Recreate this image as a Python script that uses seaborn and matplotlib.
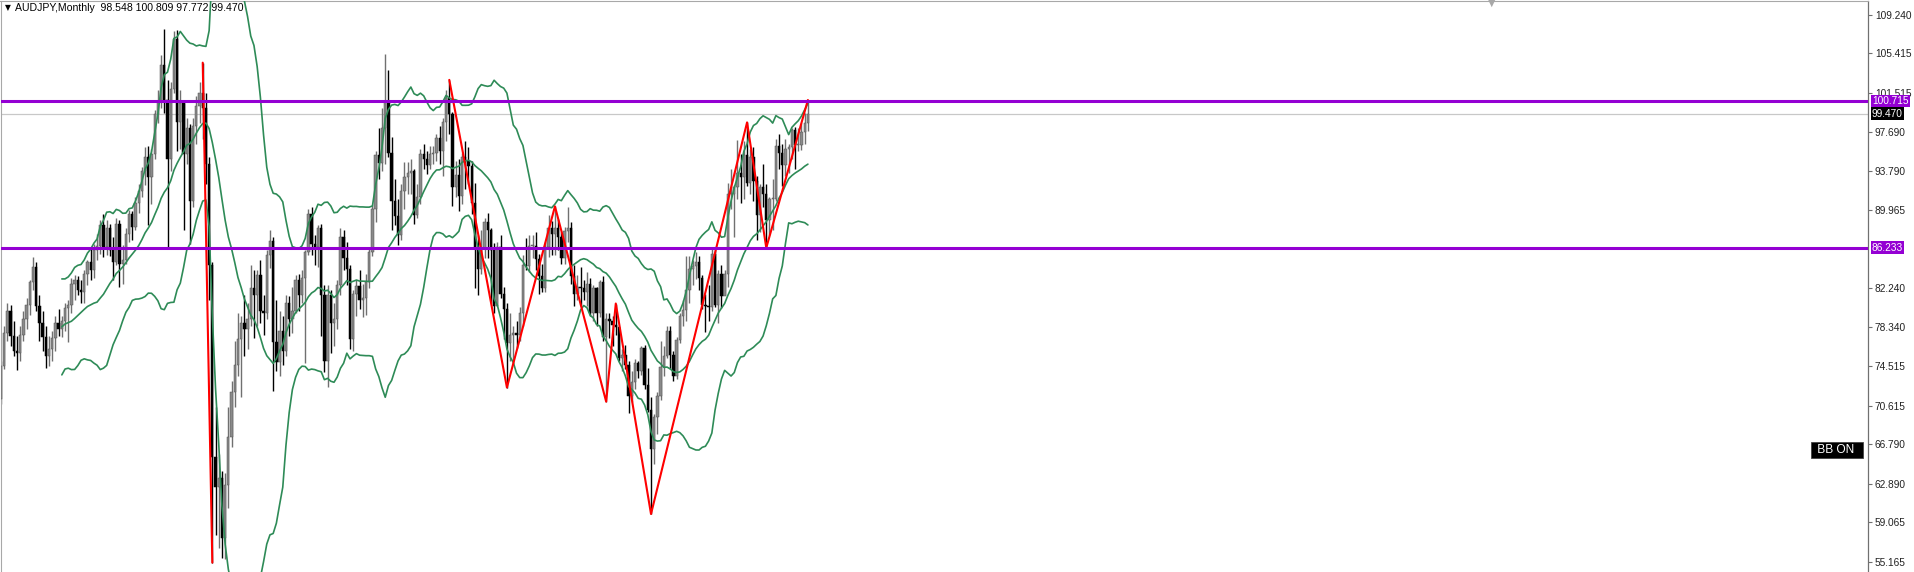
import numpy as np
import pandas as pd
import matplotlib
matplotlib.use("Agg")
import matplotlib.pyplot as plt
import matplotlib.transforms as mtransforms
import seaborn as sns

symbol_title = "AUDJPY,Monthly"
last_ohlc = [98.548, 100.809, 97.772, 99.470]
first_open = 71.3

# monthly candles, Apr 2003 .. Apr 2024 (open = previous close)
closes = [
    74.5, 77.8, 80.0, 77.5, 76.0, 75.8, 77.6, 79.2, 80.6,
    82.8, 84.3, 80.5, 78.8, 77.4, 75.5, 76.2, 77.3, 78.8, 78.2, 79.0, 80.3,
    80.6, 82.6, 83.0, 82.0, 81.8, 83.6, 84.8, 84.0, 86.0, 86.4, 88.5, 86.3,
    88.2, 86.0, 84.8, 88.6, 84.6, 85.0, 87.6, 89.5, 88.3, 90.6, 91.8, 93.8,
    95.2, 93.2, 95.5, 99.4, 100.6, 104.3, 100.8, 95.0, 101.9, 106.8, 98.6, 100.5,
    95.5, 98.0, 90.8, 98.2, 100.2, 101.5, 100.0, 94.5, 84.5, 65.5, 62.6, 63.5,
    57.5, 62.8, 67.5, 72.0, 74.6, 77.2, 78.8, 78.2, 79.2, 82.2, 81.5, 83.5,
    80.0, 79.8, 85.5, 86.9, 76.9, 74.9, 78.0, 76.0, 80.8, 79.2, 80.0, 83.0,
    81.5, 83.2, 85.8, 89.5, 86.6, 86.3, 88.2, 81.5, 75.0, 81.5, 78.8, 79.2,
    82.5, 87.3, 85.2, 84.1, 77.2, 81.6, 82.4, 81.0, 81.2, 82.8, 85.8, 90.0,
    95.4, 94.6, 98.0, 100.6, 95.6, 90.8, 89.3, 87.5, 91.8, 93.2, 93.6, 93.8,
    89.4, 91.2, 95.5, 95.0, 94.4, 95.5, 95.6, 97.1, 95.8, 98.6, 101.0, 99.4,
    92.2, 93.4, 91.3, 95.2, 94.8, 94.3, 90.6, 86.3, 84.1, 86.2, 88.8, 88.0,
    86.0, 80.5, 86.3, 81.6, 80.2, 76.8, 77.6, 77.8, 77.6, 79.8, 84.5, 84.4,
    86.4, 86.4, 85.1, 83.4, 82.2, 86.3, 88.2, 87.6, 88.2, 87.3, 85.2, 87.9,
    88.2, 83.4, 81.6, 82.3, 82.2, 81.8, 82.6, 79.8, 82.2, 79.8, 82.8, 77.4,
    79.2, 79.0, 78.6, 78.4, 75.3, 75.6, 74.6, 71.6, 72.9, 74.8, 74.0, 76.3,
    72.6, 70.2, 66.3, 69.5, 71.6, 74.4, 75.5, 78.0, 75.6, 73.5, 77.1, 79.5,
    80.1, 82.0, 84.1, 84.4, 84.8, 83.2, 80.6, 80.5, 80.4, 85.6, 80.6, 83.6,
    81.4, 83.6, 91.5, 91.5, 92.2, 93.6, 93.2, 95.4, 92.6, 95.2, 92.8, 89.4,
    92.2, 91.5, 89.0, 91.0, 91.0, 96.3, 95.6, 94.4, 96.0, 96.2, 97.8, 96.4,
    96.4, 97.6, 98.548, 99.470,
]
highs = [
    75.0, 78.5, 80.8, 80.6, 79.0, 77.5, 78.5, 80.0, 81.2,
    83.0, 85.3, 84.8, 81.5, 80.0, 78.5, 77.5, 78.0, 79.5, 80.2, 79.5, 80.8,
    81.0, 83.2, 83.5, 83.4, 83.0, 84.0, 85.0, 86.2, 86.6, 87.6, 89.0, 89.5,
    89.0, 88.6, 87.3, 89.2, 89.0, 86.5, 88.2, 89.9, 89.8, 91.2, 92.5, 94.2,
    96.2, 96.3, 96.0, 99.8, 101.8, 105.3, 107.8, 102.8, 102.6, 107.6, 107.7, 101.8,
    100.5, 99.0, 98.4, 99.0, 101.2, 102.6, 104.5, 101.5, 95.2, 84.8, 70.5, 65.8,
    64.2, 64.0, 70.5, 73.0, 77.0, 79.8, 79.5, 81.5, 80.8, 84.5, 84.0, 84.0,
    85.0, 81.5, 86.0, 88.0, 87.3, 81.0, 80.0, 79.5, 81.5, 81.4, 82.3, 83.5,
    83.6, 84.0, 86.0, 90.0, 90.2, 87.5, 88.5, 88.6, 82.5, 82.5, 82.0, 80.8,
    83.0, 88.2, 88.0, 86.8, 84.5, 82.0, 83.0, 84.0, 82.6, 83.6, 86.2, 90.4,
    95.8, 98.0, 100.0, 105.4, 103.8, 97.2, 93.0, 91.0, 92.5, 94.7, 94.7, 95.0,
    94.0, 92.5, 96.0, 96.5, 95.8, 96.3, 96.3, 97.5, 98.2, 99.0, 101.8, 102.8,
    99.6, 94.8, 95.0, 95.6, 96.8, 96.2, 94.8, 92.6, 87.5, 88.0, 89.2, 89.6,
    88.2, 86.7, 86.8, 87.5, 82.3, 80.8, 79.8, 78.5, 79.0, 80.4, 85.5, 87.2,
    87.5, 87.5, 87.8, 85.6, 84.6, 86.8, 89.4, 88.9, 90.3, 89.1, 87.8, 88.3,
    90.2, 88.8, 84.5, 83.5, 84.3, 83.0, 83.8, 83.2, 82.5, 82.3, 83.0, 83.4,
    79.8, 79.8, 79.5, 80.7, 78.4, 76.2, 76.6, 75.0, 74.0, 75.2, 75.0, 76.5,
    76.6, 74.3, 71.5, 69.8, 72.0, 77.0, 76.5, 78.5, 78.5, 76.0, 77.4, 79.8,
    81.0, 85.4, 85.4, 85.0, 85.8, 85.4, 83.5, 81.6, 82.5, 86.2, 86.0, 84.0,
    84.5, 84.0, 92.6, 94.0, 92.4, 96.9, 95.5, 96.8, 98.6, 96.0, 96.2, 93.3,
    92.5, 94.5, 92.5, 91.2, 93.0, 97.0, 97.5, 96.5, 97.0, 96.5, 98.0, 98.1,
    98.0, 98.5, 99.5, 100.809,
]
lows = [
    70.8, 74.2, 77.0, 76.5, 75.5, 74.1, 75.0, 77.0, 78.2,
    79.6, 82.0, 80.0, 77.0, 76.0, 74.3, 74.5, 75.0, 76.0, 77.5, 77.4, 78.0,
    76.9, 79.8, 81.0, 81.5, 80.8, 80.8, 82.5, 83.0, 83.2, 85.0, 85.6, 85.3,
    85.5, 85.4, 83.0, 84.5, 82.3, 82.6, 84.6, 86.8, 87.0, 88.0, 89.6, 91.2,
    92.4, 88.5, 90.5, 95.0, 98.5, 100.0, 99.5, 86.3, 93.8, 101.5, 95.8, 96.0,
    88.0, 94.5, 86.6, 90.2, 96.5, 98.5, 97.0, 92.5, 81.0, 55.1, 57.8, 56.5,
    55.6, 55.5, 60.5, 66.5, 70.5, 73.5, 71.5, 75.5, 76.2, 78.5, 77.3, 78.5,
    78.8, 77.6, 79.2, 84.2, 72.1, 74.0, 73.5, 74.6, 75.5, 77.5, 77.8, 79.8,
    80.0, 80.8, 74.8, 85.5, 85.5, 84.5, 84.3, 77.5, 73.9, 72.5, 75.8, 76.5,
    78.2, 81.5, 84.0, 82.5, 76.2, 76.0, 79.5, 80.2, 79.4, 79.6, 82.2, 85.4,
    88.8, 93.0, 93.8, 94.5, 95.2, 88.0, 88.5, 86.5, 87.0, 90.0, 91.5, 91.5,
    88.6, 89.2, 90.5, 94.0, 93.5, 94.0, 94.5, 94.8, 94.5, 93.3, 96.8, 97.5,
    90.3, 91.2, 89.8, 90.5, 92.0, 92.5, 89.5, 82.2, 81.5, 83.6, 85.2, 85.2,
    80.8, 79.8, 80.5, 81.2, 77.2, 72.4, 75.0, 74.7, 76.3, 77.0, 78.5, 84.0,
    83.8, 85.2, 84.0, 81.6, 81.8, 81.8, 85.3, 85.5, 85.5, 86.0, 84.6, 84.6,
    86.8, 82.6, 80.5, 81.0, 80.5, 81.0, 80.5, 79.5, 79.0, 78.5, 79.4, 77.0,
    71.0, 77.3, 76.5, 77.6, 75.0, 74.0, 74.2, 69.9, 71.0, 72.3, 73.3, 73.6,
    72.3, 70.0, 59.9, 64.8, 67.8, 71.2, 73.5, 75.3, 74.2, 73.0, 73.2, 76.8,
    78.5, 79.0, 80.8, 82.5, 83.1, 82.0, 80.2, 77.9, 79.0, 80.0, 80.4, 78.8,
    80.3, 81.5, 82.3, 90.0, 87.3, 91.0, 90.6, 91.0, 92.3, 91.5, 90.8, 87.0,
    87.8, 90.2, 86.2, 87.5, 88.0, 90.8, 94.0, 92.3, 93.3, 93.6, 95.0, 94.0,
    95.8, 95.9, 96.5, 97.772,
]

# zigzag pivots (bar index, price)
zigzag_a_idx = [63, 66]
zigzag_a_val = [104.5, 55.1]
zigzag_b_idx = [140, 158, 173, 189, 192, 203, 233, 239, 252]
zigzag_b_val = [102.8, 72.4, 90.3, 71.0, 80.7, 59.9, 98.6, 86.2, 100.809]

levels = [100.715, 86.233]
current_price = 99.470

tick_values = [109.240, 105.415, 101.515, 97.690, 93.790, 89.965, 82.240,
               78.340, 74.515, 70.615, 66.790, 62.890, 59.065, 55.165]
tick_labels = ["109.240", "105.415", "101.515", "97.690", "93.790", "89.965",
               "82.240", "78.340", "74.515", "70.615", "66.790", "62.890",
               "59.065", "55.165"]

sns.set_style("white")
plt.rcParams['font.family'] = ['Liberation Sans', 'DejaVu Sans']

W, H = 1915, 572
fig = plt.figure(figsize=(W / 100, H / 100), dpi=100)
ax = fig.add_axes([0.5 / W, -6 / H, 1867.5 / W, 577 / H])

closes = np.array(closes)
highs = np.array(highs)
lows = np.array(lows)
opens = np.r_[first_open, closes[:-1]]
idx = np.arange(len(closes))
bull = closes >= opens

# candles
ax.vlines(idx[bull], lows[bull], highs[bull], color="#707070", lw=1.0, zorder=2)
ax.vlines(idx[~bull], lows[~bull], highs[~bull], color="black", lw=1.0, zorder=2)
ax.bar(idx[bull], np.maximum(closes[bull] - opens[bull], 0.1), bottom=opens[bull],
       width=0.72, color="#8a8a8a", edgecolor="#505050", linewidth=0.35, zorder=3)
ax.bar(idx[~bull], np.maximum(opens[~bull] - closes[~bull], 0.1), bottom=closes[~bull],
       width=0.72, color="black", edgecolor="black", linewidth=0.35, zorder=3)

# bollinger bands 20, 2
s = pd.Series(closes)
mid = s.rolling(20).mean()
sd = s.rolling(20).std(ddof=0)
for band in (mid, mid + 2 * sd, mid - 2 * sd):
    sns.lineplot(x=idx, y=band.values, ax=ax, color="#2e8b57", linewidth=1.2, zorder=4)

# zigzag
ax.plot(zigzag_a_idx, zigzag_a_val, color="red", lw=1.5, zorder=5)
ax.plot(zigzag_b_idx, zigzag_b_val, color="red", lw=1.5, zorder=5)

# horizontal levels
ax.axhline(current_price, color="#c8c8c8", lw=0.9, zorder=1)
for lv in levels:
    ax.axhline(lv, color="#9400d3", lw=2.2, zorder=6)

ax.set_xlim((0.5 - 1) / 3.202, (1868 - 1) / 3.202)
ax.set_ylim(109.24 - (578 - 14.7) / 10.12, 109.24 + (14.7 - 1) / 10.12)
ax.set_xticks([])
ax.set_xlabel("")
ax.set_ylabel("")

ax.yaxis.tick_right()
ax.set_yticks(tick_values)
ax.set_yticklabels(tick_labels)
ax.tick_params(axis="y", length=3, width=0.8, color="#707070", labelcolor="#222222",
               labelsize=7.3, pad=2)

for side in ("left", "top"):
    ax.spines[side].set_color("#a8a8a8")
    ax.spines[side].set_linewidth(0.8)
ax.spines["right"].set_color("#707070")
ax.spines["right"].set_linewidth(0.9)
ax.spines["bottom"].set_visible(False)

trans = mtransforms.blended_transform_factory(ax.transAxes, ax.transData)
for lv in levels:
    ax.text(1.0 + 4 / 1867.5, lv, f"{lv:.3f}", transform=trans, ha="left", va="center",
            color="white", fontsize=7.3, clip_on=False, zorder=10,
            bbox=dict(boxstyle="square,pad=0.12", fc="#9400d3", ec="none"))
ax.text(1.0 + 4 / 1867.5, current_price, f"{current_price:.3f}", transform=trans,
        ha="left", va="center", color="white", fontsize=7.3, clip_on=False, zorder=10,
        bbox=dict(boxstyle="square,pad=0.12", fc="black", ec="none"))

title = f"{symbol_title}  " + " ".join(f"{v:.3f}" for v in last_ohlc)
fig.text(15 / W, 1 - 8 / H, title, fontsize=7.6, color="black", ha="left", va="center")
fig.text(5 / W, 1 - 8 / H, "\u25bc", fontsize=5.5, color="black", ha="left", va="center",
         family="DejaVu Sans")
fig.text(1492 / W, 1 - 3 / H, "\u25bc", fontsize=7, color="#a8a8a8", ha="center",
         va="center", family="DejaVu Sans")
fig.text(1837 / W, 1 - 450 / H, " BB ON  ", fontsize=8.6, color="white", ha="center",
         va="center", bbox=dict(boxstyle="square,pad=0.18", fc="black", ec="#444444", lw=0.6))

fig.savefig("out.png", dpi=100)
